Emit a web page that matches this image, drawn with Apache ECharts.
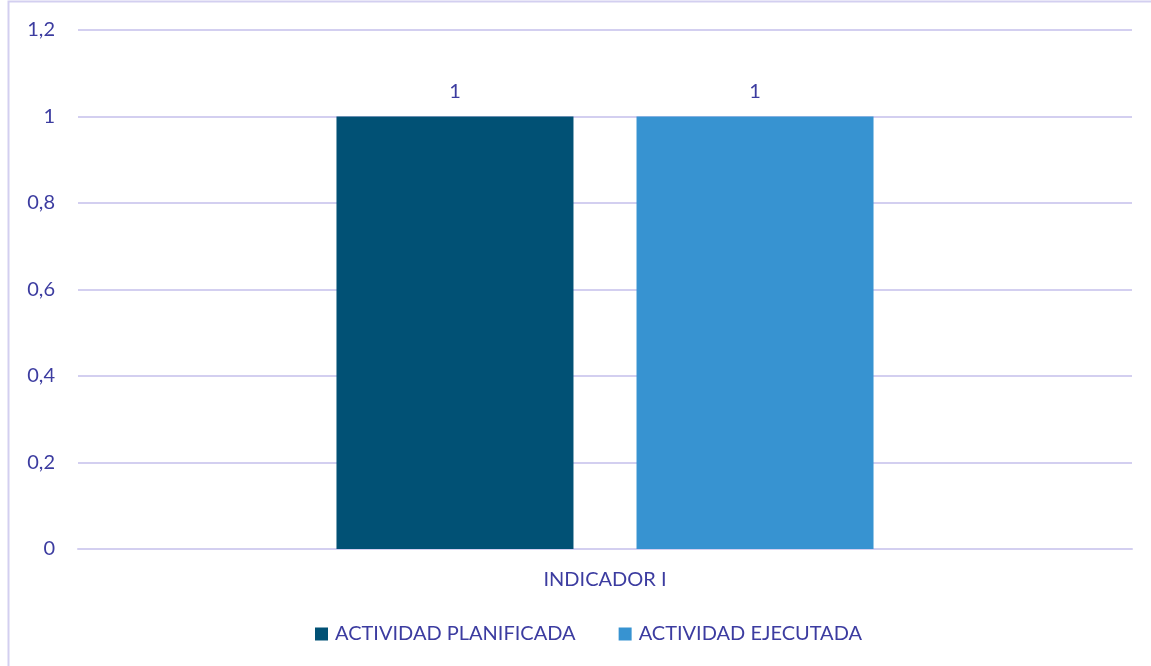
<!DOCTYPE html>
<html><head><meta charset="utf-8">
<script src="https://cdn.jsdelivr.net/npm/echarts@6/dist/echarts.min.js"></script>
<style>html,body{margin:0;padding:0;background:#fff}#c{width:1151px;height:666px}</style>
</head><body><div id="c"></div>
<script>
const categories = ['INDICADOR I'];
const seriesNames = ['ACTIVIDAD PLANIFICADA', 'ACTIVIDAD EJECUTADA'];
const planificada = [1];
const ejecutada = [1];
const txt = '#3C3CA0';
const font = 'Lato, "Open Sans", sans-serif';
const fs = 20;
const chart = echarts.init(document.getElementById('c'));
chart.setOption({
  animation: false,
  textStyle: {fontFamily: font},
  graphic: [{type: 'rect', shape: {x: 8.5, y: 1.5, width: 1200, height: 700}, style: {fill: 'none', stroke: '#D3CFF0', lineWidth: 2}, silent: true}],
  grid: {left: 78, right: 19, top: 30, bottom: 117},
  legend: {bottom: 17, left: 310, itemWidth: 13, itemHeight: 13, itemGap: 43, icon: 'rect',
    textStyle: {color: txt, fontSize: fs, fontFamily: font, padding: [0, 0, 0, 2]}, data: seriesNames},
  xAxis: {type: 'category', data: categories, axisTick: {show: false},
    axisLine: {lineStyle: {color: '#D3CFF0', width: 2}},
    axisLabel: {color: txt, fontSize: fs, margin: 21, fontFamily: font}},
  yAxis: {type: 'value', min: 0, max: 1.2, interval: 0.2,
    axisLine: {show: false}, axisTick: {show: false},
    splitLine: {lineStyle: {color: '#D3CFF0', width: 2}},
    axisLabel: {color: txt, fontSize: fs, margin: 23, fontFamily: font,
      formatter: v => String(Math.round(v * 10) / 10).replace('.', ',')}},
  series: [
    {name: seriesNames[0], type: 'bar', data: planificada, barWidth: 237, barGap: '26.6%',
      itemStyle: {color: '#015175'},
      label: {show: true, position: 'top', distance: 15, color: txt, fontSize: fs, fontFamily: font}},
    {name: seriesNames[1], type: 'bar', data: ejecutada, barWidth: 237,
      itemStyle: {color: '#3793D1'},
      label: {show: true, position: 'top', distance: 15, color: txt, fontSize: fs, fontFamily: font}}
  ]
});
</script></body></html>
